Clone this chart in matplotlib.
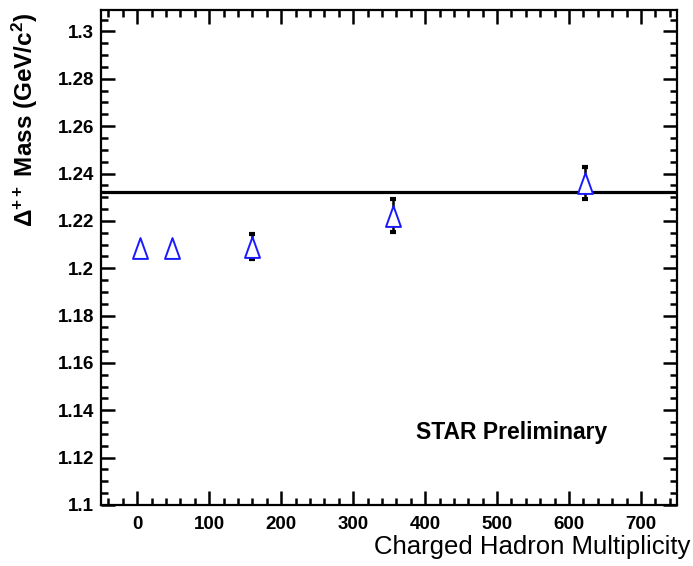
import numpy as np
import matplotlib
matplotlib.use("Agg")
import matplotlib.pyplot as plt
from matplotlib.path import Path
from matplotlib.ticker import MultipleLocator, FormatStrFormatter

# Delta++ mass vs charged hadron multiplicity
mult = [4, 48, 160, 355, 622]
mass = [1.2085, 1.2085, 1.2090, 1.2221, 1.2358]
err_lo = [0.0, 0.0, 0.0053, 0.0070, 0.0064]
err_hi = [0.0, 0.0, 0.0055, 0.0072, 0.0070]
pdg_mass = 1.232

plt.rcParams['font.family'] = ['Liberation Sans', 'DejaVu Sans']
plt.rcParams['mathtext.fontset'] = 'custom'
plt.rcParams['mathtext.rm'] = 'Liberation Sans:bold'
plt.rcParams['mathtext.it'] = 'Liberation Sans:bold'
plt.rcParams['mathtext.bf'] = 'Liberation Sans:bold'

fig = plt.figure(figsize=(6.93, 5.66), dpi=100)
ax = fig.add_axes([0.146, 0.108, 0.831, 0.874])

# open triangle, a bit taller than wide
tri = Path([(0, 1), (-0.72, -1), (0.72, -1), (0, 1)],
           [Path.MOVETO, Path.LINETO, Path.LINETO, Path.CLOSEPOLY])

ax.axhline(pdg_mass, color='black', lw=2.3, zorder=1)
ax.errorbar(mult, mass, yerr=[err_lo, err_hi], fmt='none', ecolor='black',
            elinewidth=1.8, capsize=2.2, capthick=3.0, zorder=2)
ax.plot(mult, mass, linestyle='none', marker=tri, markersize=15,
        markerfacecolor='white', markeredgecolor='#1a1aff',
        markeredgewidth=1.4, zorder=3)

ax.set_xlim(-50, 750)
ax.set_ylim(1.1, 1.309)

ax.xaxis.set_major_locator(MultipleLocator(100))
ax.xaxis.set_minor_locator(MultipleLocator(20))
ax.yaxis.set_major_locator(MultipleLocator(0.02))
ax.yaxis.set_minor_locator(MultipleLocator(0.005))
ax.yaxis.set_major_formatter(FormatStrFormatter('%g'))

for s in ax.spines.values():
    s.set_linewidth(1.6)
ax.tick_params(which='both', direction='in', top=True, right=True, width=1.8,
               labelsize=13.5)
ax.tick_params(which='major', length=10)
ax.tick_params(which='minor', length=5)
ax.tick_params(axis='y', pad=5)
ax.tick_params(axis='x', pad=8)
for lab in ax.get_xticklabels() + ax.get_yticklabels():
    lab.set_fontweight('bold')

fig.text(0.996, 0.013, 'Charged Hadron Multiplicity', ha='right', va='bottom',
         fontsize=18.5)
fig.text(0.036, 0.978, 'Δ$^{++}$ Mass (GeV/c$^{2}$)', rotation=90,
         ha='center', va='top', fontsize=17.5, fontweight='bold')
ax.text(0.547, 0.147, 'STAR Preliminary', transform=ax.transAxes,
        fontsize=16.5, fontweight='bold', ha='left', va='center')

fig.savefig('out.png', dpi=100)
